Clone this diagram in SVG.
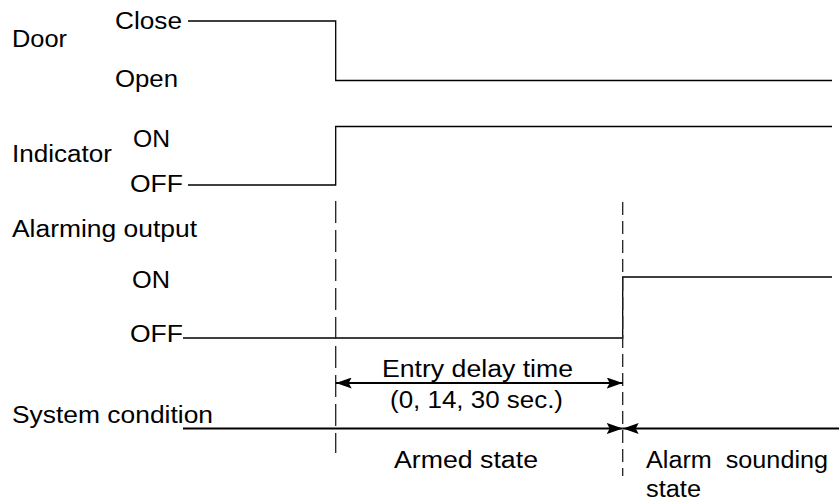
<svg xmlns="http://www.w3.org/2000/svg" width="839" height="502" viewBox="0 0 839 502">
<style>
text{font-family:"Liberation Sans",Arial,sans-serif;font-size:23px;fill:#000}
.sig{fill:none;stroke:#000;stroke-width:1.3}
.dash1{fill:none;stroke:#222;stroke-width:1.3;stroke-dasharray:22 7}
.dash2{fill:none;stroke:#222;stroke-width:1.3;stroke-dasharray:13 6}
.arr{fill:none;stroke:#000;stroke-width:2.2}
</style>
<defs>
<marker id="ah" viewBox="0 0 16 11" refX="16" refY="5.5" markerWidth="16" markerHeight="11" markerUnits="userSpaceOnUse" orient="auto-start-reverse">
<path d="M0,0 L16,5.5 L0,11 L3,5.5 Z" fill="#000"/>
</marker>
</defs>
<rect width="839" height="502" fill="#fff"/>
<g id="labels">
<text x="12" y="47" textLength="55" lengthAdjust="spacingAndGlyphs">Door</text>
<text x="115" y="29" textLength="67" lengthAdjust="spacingAndGlyphs">Close</text>
<text x="115" y="87" textLength="63" lengthAdjust="spacingAndGlyphs">Open</text>
<text x="12" y="162" textLength="100" lengthAdjust="spacingAndGlyphs">Indicator</text>
<text x="133" y="147" textLength="37" lengthAdjust="spacingAndGlyphs">ON</text>
<text x="130" y="192" textLength="53" lengthAdjust="spacingAndGlyphs">OFF</text>
<text x="12" y="237" textLength="185" lengthAdjust="spacingAndGlyphs">Alarming output</text>
<text x="132" y="288" textLength="38" lengthAdjust="spacingAndGlyphs">ON</text>
<text x="130" y="342" textLength="53" lengthAdjust="spacingAndGlyphs">OFF</text>
<text x="12" y="423" textLength="201" lengthAdjust="spacingAndGlyphs">System condition</text>
<text x="382" y="377" textLength="191" lengthAdjust="spacingAndGlyphs">Entry delay time</text>
<text x="390" y="408" textLength="173" lengthAdjust="spacingAndGlyphs">(0, 14, 30 sec.)</text>
<text x="394" y="468" textLength="144" lengthAdjust="spacingAndGlyphs">Armed state</text>
<text x="646" y="468" textLength="182" lengthAdjust="spacingAndGlyphs" xml:space="preserve">Alarm  sounding</text>
<text x="646" y="497" textLength="55" lengthAdjust="spacingAndGlyphs">state</text>
</g>
<g id="connectors">
<polyline id="door" class="sig" points="188,21 335.7,21 335.7,80.5 832,80.5"/>
<polyline id="indicator" class="sig" points="188,185 335.7,185 335.7,126.5 832,126.5"/>
<polyline id="alarm" class="sig" points="183,338 622.7,338 622.7,277 832,277"/>
<line class="dash1" x1="335.7" y1="201" x2="335.7" y2="453"/>
<line class="dash2" x1="622.7" y1="202" x2="622.7" y2="476"/>
<line class="arr" x1="335.7" y1="383" x2="622.7" y2="383" marker-start="url(#ah)" marker-end="url(#ah)"/>
<line class="arr" x1="183" y1="428.5" x2="622.7" y2="428.5" stroke-width="2.6" marker-end="url(#ah)"/>
<line class="arr" x1="622.7" y1="428.5" x2="839" y2="428.5" stroke-width="2.6" marker-start="url(#ah)"/>
</g>
</svg>
